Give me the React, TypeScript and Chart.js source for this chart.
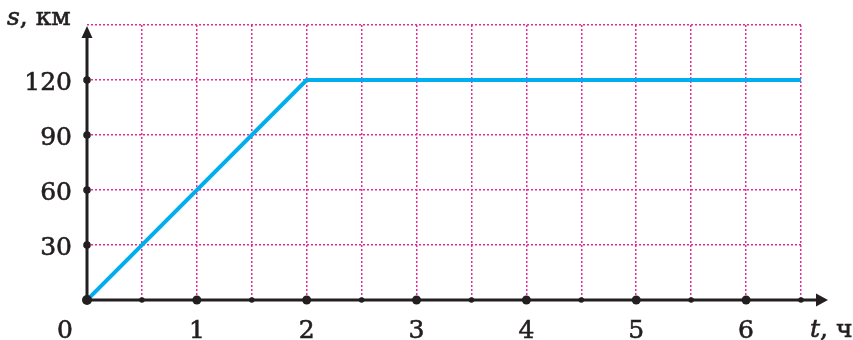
import React, { useEffect, useRef } from 'react';
import { Chart, registerables } from 'chart.js';

Chart.register(...registerables);

// ---- data ----
const tHours = [0, 2, 6.5];
const sKm = [0, 120, 120];
const xMajorTicks = [1, 2, 3, 4, 5, 6];
const xMinorTicks = [0.5, 1.5, 2.5, 3.5, 4.5, 5.5, 6.5];
const yTicks = [30, 60, 90, 120];
const xLabels = ['0', '1', '2', '3', '4', '5', '6'];
const xLabelValues = [0, 1, 2, 3, 4, 5, 6];
const yLabels = ['30', '60', '90', '120'];
const xMax = 6.5;
const yMax = 150;
const yAxisUnit = 'км';
const yAxisVar = 's';
const xAxisUnit = 'ч';
const xAxisVar = 't';

const INK = '#231F20';
const PINK = '#EA2A93';
const BLUE = '#00AEEF';
const FONT = '"DejaVu Serif", serif';
const FS = 25;

const axesPlugin = {
  id: 'axesPlugin',
  afterDraw(chart: any) {
    const { ctx, scales } = chart;
    const x = scales.x;
    const y = scales.y;
    const x0 = x.getPixelForValue(0);
    const y0 = y.getPixelForValue(0);
    const xEnd = x.getPixelForValue(xMax);
    const yTop = y.getPixelForValue(yMax);
    ctx.save();
    ctx.strokeStyle = INK;
    ctx.fillStyle = INK;
    ctx.lineWidth = 3;
    ctx.lineCap = 'butt';
    // x axis
    const xTip = xEnd + 27;
    ctx.beginPath();
    ctx.moveTo(x0, y0);
    ctx.lineTo(xTip - 10, y0);
    ctx.stroke();
    ctx.beginPath();
    ctx.moveTo(xTip, y0);
    ctx.lineTo(xTip - 12, y0 - 6.5);
    ctx.lineTo(xTip - 12, y0 + 6.5);
    ctx.closePath();
    ctx.fill();
    // y axis
    const yTip = yTop + 1;
    ctx.beginPath();
    ctx.moveTo(x0, y0);
    ctx.lineTo(x0, yTip + 10);
    ctx.stroke();
    ctx.beginPath();
    ctx.moveTo(x0, yTip);
    ctx.lineTo(x0 - 5.5, yTip + 12);
    ctx.lineTo(x0 + 5.5, yTip + 12);
    ctx.closePath();
    ctx.fill();
    // dots
    const dot = (px: number, py: number, r: number) => {
      ctx.beginPath();
      ctx.arc(px, py, r, 0, Math.PI * 2);
      ctx.fill();
    };
    dot(x0, y0, 5);
    xMajorTicks.forEach((v) => dot(x.getPixelForValue(v), y0, 4.5));
    xMinorTicks.forEach((v) => dot(x.getPixelForValue(v), y0, 2.8));
    yTicks.forEach((v) => dot(x0, y.getPixelForValue(v), 3.8));
    // labels
    ctx.lineWidth = 0.6;
    const txt = (s: string, px: number, py: number) => {
      ctx.fillText(s, px, py);
      ctx.strokeText(s, px, py);
    };
    ctx.font = `${FS}px ${FONT}`;
    ctx.textBaseline = 'alphabetic';
    ctx.textAlign = 'right';
    yLabels.forEach((lab, i) => {
      txt(lab, x0 - 15, y.getPixelForValue(yTicks[i]) + 9.5);
    });
    ctx.textAlign = 'center';
    xLabels.forEach((lab, i) => {
      const v = xLabelValues[i];
      const px = v === 0 ? x0 - 22 : x.getPixelForValue(v);
      txt(lab, px, y0 + 38);
    });
    // axis titles
    ctx.textAlign = 'left';
    const drawTitle = (v: string, unit: string, left: number, base: number) => {
      ctx.font = `italic ${FS}px ${FONT}`;
      txt(v, left, base);
      const w = ctx.measureText(v).width;
      ctx.font = `${FS}px ${FONT}`;
      txt(', ' + unit, left + w, base);
    };
    drawTitle(yAxisVar, yAxisUnit, 7, 25);
    drawTitle(xAxisVar, xAxisUnit, 810, 337);
    ctx.restore();
  },
};

export default function App() {
  const ref = useRef<HTMLCanvasElement>(null);
  useEffect(() => {
    if (!ref.current) return;
    const points = tHours.map((t, i) => ({ x: t, y: sKm[i] }));
    const gridColor = (c: any) => (c.tick && c.tick.value === 0 ? 'rgba(0,0,0,0)' : PINK);
    const chart = new Chart(ref.current, {
      type: 'line',
      data: {
        datasets: [
          {
            data: points,
            borderColor: BLUE,
            borderWidth: 4,
            pointRadius: 0,
            tension: 0,
            fill: false,
          },
        ],
      },
      options: {
        animation: false,
        responsive: false,
        events: [],
        layout: { padding: { left: 87, right: 52, top: 25, bottom: 40 } },
        plugins: { legend: { display: false }, tooltip: { enabled: false } },
        scales: {
          x: {
            type: 'linear',
            min: 0,
            max: xMax,
            ticks: { display: false, stepSize: 0.5 },
            grid: { color: gridColor, lineWidth: 1.5, drawTicks: false },
            border: { display: false, dash: [2, 2] },
            afterFit: (s: any) => {
              s.height = 0;
            },
          },
          y: {
            type: 'linear',
            min: 0,
            max: yMax,
            ticks: { display: false, stepSize: 30 },
            grid: { color: gridColor, lineWidth: 1.5, drawTicks: false },
            border: { display: false, dash: [2, 2] },
            afterFit: (s: any) => {
              s.width = 0;
            },
          },
        },
      },
      plugins: [axesPlugin],
    } as any);
    return () => chart.destroy();
  }, []);
  return (
    <div style={{ position: 'fixed', left: 0, top: 0, width: 853, height: 340, background: '#fff' }}>
      <canvas ref={ref} width={853} height={340} style={{ display: 'block' }} />
    </div>
  );
}
